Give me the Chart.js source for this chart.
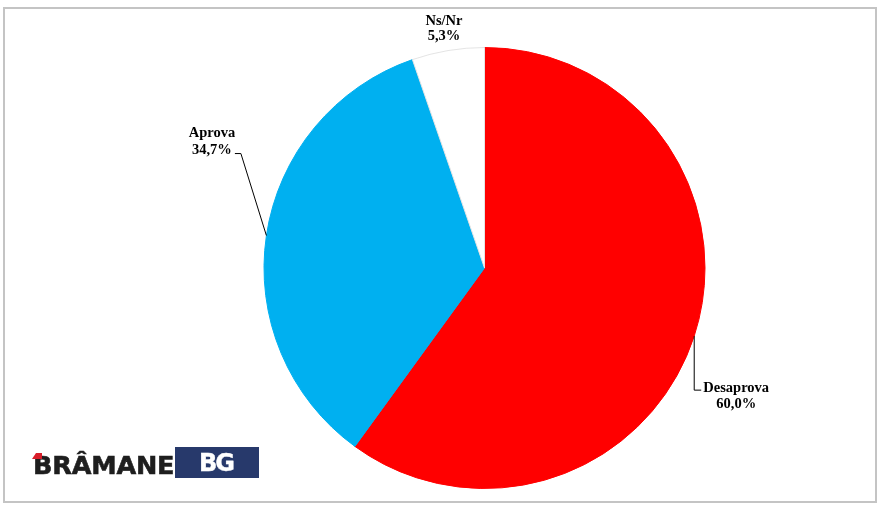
<!DOCTYPE html>
<html>
<head>
<meta charset="utf-8">
<script src="https://cdn.jsdelivr.net/npm/chart.js@4.4.1/dist/chart.umd.min.js"></script>
<style>
  html, body { margin: 0; padding: 0; background: #fff; }
  #wrap { position: relative; width: 888px; height: 512px; overflow: hidden; }
  #frame {
    position: absolute; left: 3px; top: 7px; width: 874px; height: 496px;
    border: 2px solid #c4c4c4; box-sizing: border-box;
  }
  #pie { position: absolute; left: 0; top: 0; }
  .logo-text {
    position: absolute; left: 33px; top: 449px;
    font-family: "DejaVu Sans", sans-serif; font-weight: bold; font-size: 25.5px;
    color: #1e1e1e; line-height: 32px; letter-spacing: -0.2px;
    -webkit-text-stroke: 0.6px #1e1e1e;
  }
  .logo-accent {
    position: absolute; left: 32px; top: 453px; width: 10px; height: 6px;
    background: #d81e2a; clip-path: polygon(0 100%, 40% 0, 100% 0, 100% 100%);
  }
  .logo-box {
    position: absolute; left: 175px; top: 447px; width: 84px; height: 31px;
    background: #27396b;
  }
  .logo-box span {
    position: absolute; left: 24px; top: 0px;
    font-family: "DejaVu Sans", sans-serif; font-weight: bold; font-size: 24px;
    color: #fff; line-height: 32px; letter-spacing: -2px;
    -webkit-text-stroke: 0.4px #fff;
  }
</style>
</head>
<body>
<div id="wrap">
  <div id="frame"></div>
  <canvas id="pie" width="888" height="512"></canvas>
  <div class="logo-text">BRÂMANE</div>
  <div class="logo-accent"></div>
  <div class="logo-box"><span>BG</span></div>
</div>
<script>
// data
const categories = ["Desaprova", "Aprova", "Ns/Nr"];
const shares = [60.0, 34.7, 5.3];

const sliceColors = ["#ff0000", "#00b0f0", "#ffffff"];
const sliceBorders = ["#ff0000", "#00b0f0", "#e4e4e4"];

// label placement, relative to the point on the rim at each slice's middle angle
const labelLayout = [
  { tx: 42, ty: [52, 68], leader: [[0, 54], [7, 54]] },
  { tx: -54.5, ty: [-102, -85], leader: [[-25.5, -82], [-31.5, -82]] },
  { tx: -4, ty: [-29, -14], leader: [] }
];

function pct(v) {
  return v.toFixed(1).replace(".", ",") + "%";
}

const sliceLabels = {
  id: "sliceLabels",
  afterDatasetsDraw(chart) {
    const ctx = chart.ctx;
    const arcs = chart.getDatasetMeta(0).data;
    ctx.save();
    ctx.font = "bold 14.5px 'Liberation Serif', 'Times New Roman', serif";
    ctx.fillStyle = "#000";
    ctx.strokeStyle = "#000";
    ctx.lineWidth = 1;
    ctx.textAlign = "center";
    ctx.textBaseline = "middle";
    arcs.forEach((arc, i) => {
      const p = arc.getProps(["x", "y", "startAngle", "endAngle", "outerRadius"], true);
      const mid = (p.startAngle + p.endAngle) / 2;
      const ex = p.x + p.outerRadius * Math.cos(mid);
      const ey = p.y + p.outerRadius * Math.sin(mid);
      const lay = labelLayout[i];
      if (lay.leader.length) {
        ctx.beginPath();
        ctx.moveTo(ex, ey);
        lay.leader.forEach(pt => ctx.lineTo(ex + pt[0], ey + pt[1]));
        ctx.stroke();
      }
      ctx.fillText(categories[i], ex + lay.tx, ey + lay.ty[0]);
      ctx.fillText(pct(shares[i]), ex + lay.tx, ey + lay.ty[1]);
    });
    ctx.restore();
  }
};

new Chart(document.getElementById("pie").getContext("2d"), {
  type: "pie",
  data: {
    labels: categories,
    datasets: [{
      data: shares,
      backgroundColor: sliceColors,
      borderColor: sliceBorders,
      borderWidth: 1
    }]
  },
  options: {
    responsive: false,
    animation: false,
    layout: { padding: { top: 47, bottom: 23, left: 263, right: 182 } },
    plugins: {
      legend: { display: false },
      tooltip: { enabled: false }
    }
  },
  plugins: [sliceLabels]
});
</script>
</body>
</html>
